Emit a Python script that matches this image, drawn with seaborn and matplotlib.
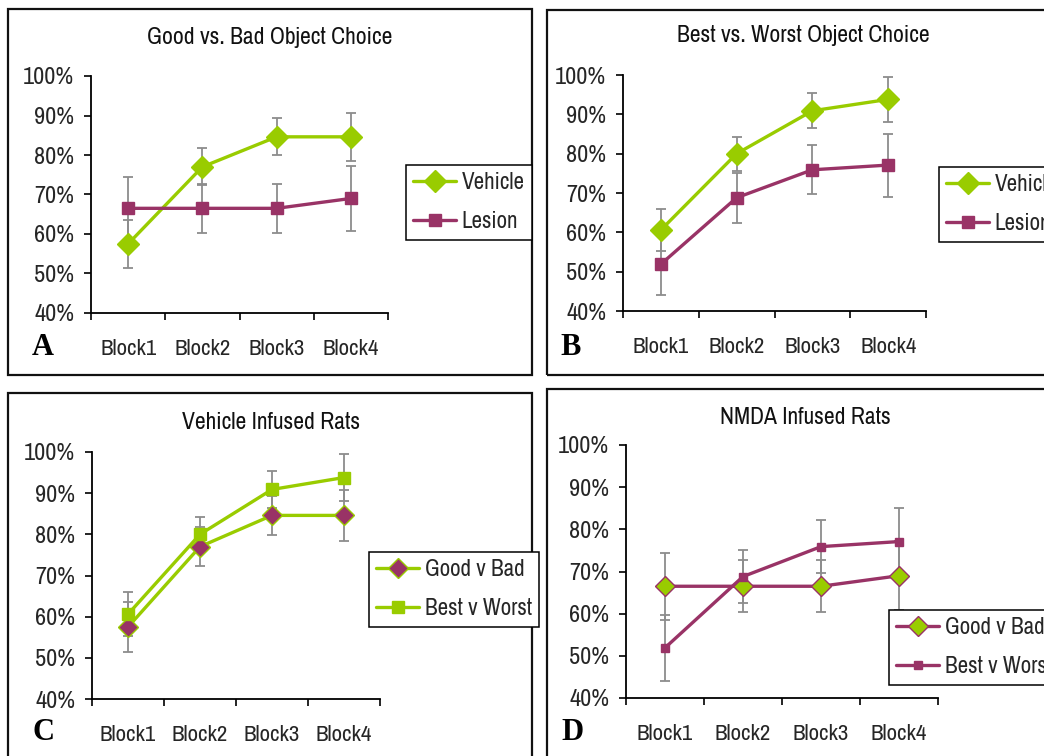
import matplotlib
matplotlib.use("Agg")
import matplotlib.pyplot as plt
from matplotlib.patches import Rectangle
import numpy as np
import pandas as pd
import seaborn as sns

# ---- data (percent correct, mean and SEM per block) ----
blocks = ["Block1", "Block2", "Block3", "Block4"]
y_ticks = [40, 50, 60, 70, 80, 90, 100]

gb_vehicle = [57.5, 77.0, 84.6, 84.6]
gb_vehicle_sem = [6.0, 4.7, 4.7, 6.1]
gb_lesion = [66.5, 66.5, 66.5, 69.0]
gb_lesion_sem = [8.0, 6.2, 6.2, 8.2]

bw_vehicle = [60.6, 80.0, 90.9, 93.8]
bw_vehicle_sem = [5.4, 4.3, 4.4, 5.7]
bw_lesion = [51.9, 68.8, 75.9, 77.1]
bw_lesion_sem = [7.8, 6.3, 6.2, 8.0]

GREEN = "#99CC00"
PURPLE = "#993366"
ERR = "#8c8c8c"

sns.set_theme(style="white")
plt.rcParams["font.family"] = ["Liberation Sans Narrow", "Arial Narrow", "Nimbus Sans Narrow",
                               "Archivo Narrow", "Roboto Condensed", "DejaVu Sans"]

W, H = 1044, 756
fig = plt.figure(figsize=(W / 100, H / 100), dpi=100)
fig.patch.set_facecolor("white")


def fx(x):
    return x / W


def fy(y):
    return 1 - y / H


def add_axes(left, right, top, bottom):
    return fig.add_axes([fx(left), fy(bottom), fx(right) - fx(left), fy(top) - fy(bottom)])


def frame(x0, y0, x1, y1):
    fig.add_artist(Rectangle((fx(x0), fy(y1)), fx(x1) - fx(x0), fy(y0) - fy(y1),
                             transform=fig.transFigure, fill=False,
                             edgecolor="#111111", linewidth=1.6, zorder=0))


def style_axes(ax):
    ax.set_xlim(-0.5, len(blocks) - 0.5)
    ax.set_ylim(40, 100)
    ax.set_yticks(y_ticks)
    ax.set_yticklabels([f"{v}%" for v in y_ticks])
    ax.set_xticks(np.arange(len(blocks) + 1) - 0.5)
    ax.set_xticklabels([])
    ax.set_xticks(np.arange(len(blocks)), minor=True)
    ax.set_xticklabels(blocks, minor=True)
    for side in ("top", "right"):
        ax.spines[side].set_visible(False)
    for side in ("left", "bottom"):
        ax.spines[side].set_color("black")
        ax.spines[side].set_linewidth(1.3)
    ax.tick_params(axis="y", which="major", direction="out", length=5, width=1.2,
                   color="black", labelsize=17.5, pad=7, left=True)
    ax.tick_params(axis="x", which="major", direction="out", length=5, width=1.2,
                   color="black", bottom=True)
    ax.tick_params(axis="x", which="minor", length=0, labelsize=16.5, pad=19)
    ax.set_xlabel("")
    ax.set_ylabel("")
    ax.set_facecolor("white")
    ax.grid(False)


def series(ax, values, sem, color, marker, ms, mfc, mec, label):
    x = np.arange(len(blocks))
    ax.errorbar(x, values, yerr=sem, fmt="none", ecolor=ERR, elinewidth=1.3,
                capsize=3.8, capthick=1.3, zorder=2)
    df = pd.DataFrame({"block": x, "value": values})
    sns.lineplot(data=df, x="block", y="value", ax=ax, color=color, linewidth=2.4,
                 marker=marker, markersize=ms, markerfacecolor=mfc,
                 markeredgecolor=mec, markeredgewidth=1.0, label=label, zorder=3)


def legend(ax, x0, y0, size=16.6):
    leg = ax.legend(loc="upper left", bbox_to_anchor=(fx(x0), fy(y0)),
                    bbox_transform=fig.transFigure, frameon=True, fancybox=False,
                    edgecolor="black", framealpha=1, fontsize=size,
                    handlelength=1.85, handletextpad=0.25, borderpad=0.32,
                    labelspacing=0.78, borderaxespad=0, numpoints=1)
    leg.get_frame().set_linewidth(1.1)
    return leg


def panel_text(x, y, title, letter_x, letter_y, letter):
    fig.text(fx(x), fy(y), title, ha="center", va="center", fontsize=17, color="#111111")
    fig.text(fx(letter_x), fy(letter_y), letter, ha="center", va="center",
             fontsize=22, fontweight="bold", family=["Liberation Serif", "DejaVu Serif"],
             color="black")


# ---- panel frames ----
frame(8, 9, 532, 375)
frame(547, 10, 1100, 375)
frame(8, 393, 532, 800)
frame(547, 389, 1100, 800)

# ---- A: good vs. bad object choice ----
axA = add_axes(91, 388, 76, 313)
style_axes(axA)
series(axA, gb_vehicle, gb_vehicle_sem, GREEN, "D", 11, GREEN, GREEN, "Vehicle")
series(axA, gb_lesion, gb_lesion_sem, PURPLE, "s", 9, PURPLE, PURPLE, "Lesion")
style_axes(axA)
legend(axA, 406, 165)
panel_text(270, 38, "Good vs. Bad Object Choice", 43, 347, "A")

# ---- B: best vs. worst object choice ----
axB = add_axes(623, 926, 75, 311)
style_axes(axB)
series(axB, bw_vehicle, bw_vehicle_sem, GREEN, "D", 11, GREEN, GREEN, "Vehicle")
series(axB, bw_lesion, bw_lesion_sem, PURPLE, "s", 9, PURPLE, PURPLE, "Lesion")
style_axes(axB)
legend(axB, 939, 167)
panel_text(803, 36, "Best vs. Worst Object Choice", 571, 347, "B")

# ---- C: vehicle infused rats ----
axC = add_axes(92, 380, 452, 699)
style_axes(axC)
series(axC, gb_vehicle, gb_vehicle_sem, GREEN, "D", 10, PURPLE, GREEN, "Good v Bad")
series(axC, bw_vehicle, bw_vehicle_sem, GREEN, "s", 9, GREEN, GREEN, "Best v Worst")
style_axes(axC)
legend(axC, 369, 552)
panel_text(271, 422, "Vehicle Infused Rats", 44, 732, "C")

# ---- D: NMDA infused rats ----
axD = add_axes(626, 938, 445, 698)
style_axes(axD)
series(axD, gb_lesion, gb_lesion_sem, PURPLE, "D", 10, GREEN, PURPLE, "Good v Bad")
series(axD, bw_lesion, bw_lesion_sem, PURPLE, "s", 6, PURPLE, PURPLE, "Best v Worst")
style_axes(axD)
legend(axD, 889, 610)
panel_text(805, 418, "NMDA Infused Rats", 572, 732, "D")

fig.savefig("out.png", dpi=100, facecolor="white")
